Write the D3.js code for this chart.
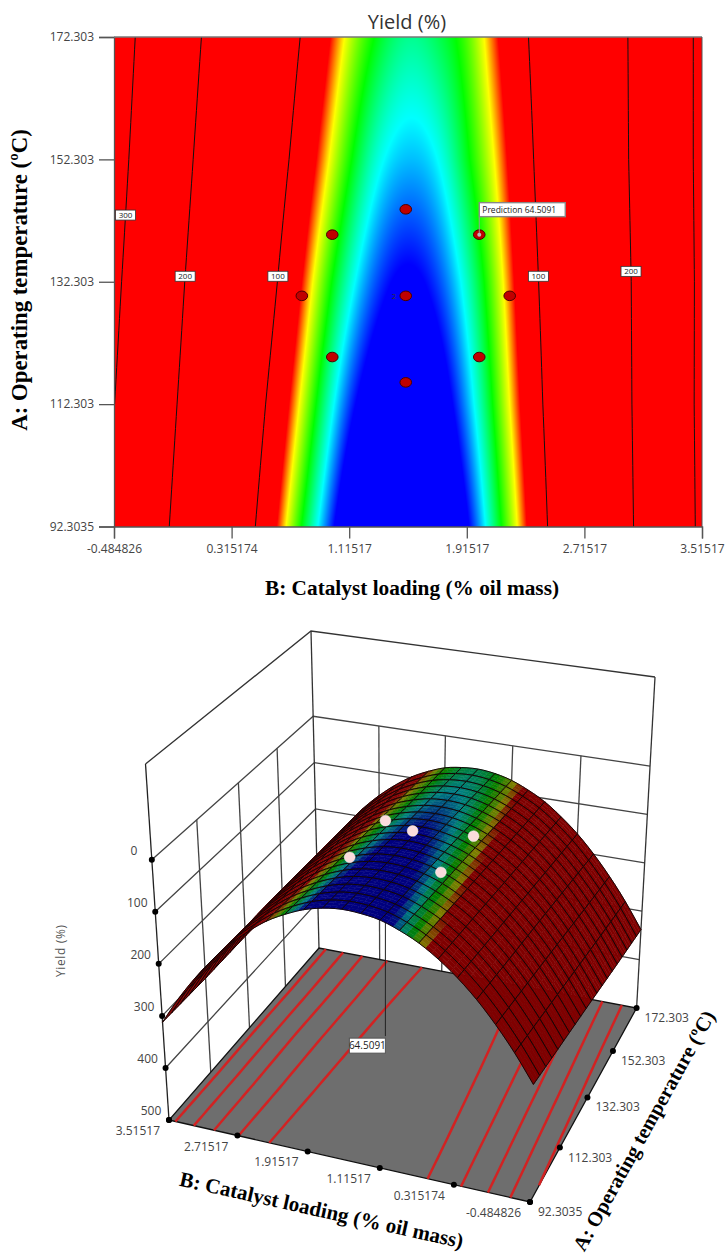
<!DOCTYPE html>
<html>
<head>
<meta charset="utf-8">
<script src="https://cdn.jsdelivr.net/npm/d3@7"></script>
<style>
  body { margin: 0; background: #fff; }
  svg { display: block; }
  text { font-family: "Open Sans", sans-serif; }
  .serif { font-family: "Liberation Serif", serif; font-weight: bold; fill: #000; }
</style>
</head>
<body>
<svg width="725" height="1259"></svg>
<script>
// values, yield label by catalyst loading for each temperature
const catalystGrid = [-0.484826, -0.284826, -0.084826, 0.115174, 0.315174, 0.515174, 0.715174,
  0.915174, 1.115174, 1.315174, 1.515174, 1.715174, 1.915174, 2.115174, 2.315174, 2.515174,
  2.715174, 2.915174, 3.115174, 3.315174, 3.515174];
const tempGrid = [92.3035, 112.303, 132.303, 152.303, 172.303];
const yield92 = [289, 239, 195, 156, 123, 95, 72, 55, 42, 36, 34, 38, 47, 62, 81, 107, 137, 173, 214, 260, 312];
const yield112 = [301, 251, 206, 167, 133, 104, 81, 63, 50, 43, 41, 44, 53, 67, 86, 111, 141, 176, 216, 262, 314];
const yield132 = [313, 263, 217, 177, 143, 114, 90, 71, 58, 50, 47, 50, 58, 71, 90, 114, 143, 177, 217, 263, 313];
const yield152 = [326, 275, 229, 188, 153, 123, 99, 80, 66, 57, 54, 56, 64, 76, 94, 118, 147, 181, 220, 265, 315];
const yield172 = [338, 286, 240, 199, 163, 133, 107, 88, 73, 64, 60, 62, 68, 81, 98, 121, 149, 182, 221, 265, 315];
const yieldRows = [yield92, yield112, yield132, yield152, yield172];

const colorStops = [48, 56, 65, 75, 82];
const heatColors = ["#0000ff", "#00ffff", "#00ff00", "#ffff00", "#ff0000"];
const surfColors = ["#00007f", "#007f7f", "#007f00", "#7f7f00", "#7f0000"];

const tempTicks = [92.3035, 112.303, 132.303, 152.303, 172.303];
const tempTickLabels = ["92.3035", "112.303", "132.303", "152.303", "172.303"];
const catTicks = [-0.484826, 0.315174, 1.115174, 1.915174, 2.715174, 3.515174];
const catTickLabels = ["-0.484826", "0.315174", "1.11517", "1.91517", "2.71517", "3.51517"];
const yieldTicks = [0, 100, 200, 300, 400, 500];

const contourLevels = [100, 200, 300];
const contourLabels = [[300, 143.2, -1], [200, 133.2, -1], [100, 133.2, -1], [100, 133.2, 1], [200, 134, 1]];
const floorLevels = [85, 135, 187, 238, 292];

const designA = [120, 120, 140, 140, 115.86, 144.14, 130, 130, 130];
const designB = [1, 2, 1, 2, 1.5, 1.5, 0.793, 2.207, 1.5];
const shownA = [120, 140, 140, 120, 130];
const shownB = [1, 1, 2, 2, 1.5];
const shownYield = [60, 66, 63, 60, 32];
const flagA = 140, flagB = 2, flagValue = "64.5091";

const svg = d3.select("svg");
const catStep = catalystGrid[1] - catalystGrid[0];
const catMid = 1.515174;

function catmull(row, t) {
  const i = Math.max(0, Math.min(row.length - 2, Math.floor(t)));
  const f = t - i;
  const p1 = row[i], p2 = row[i + 1];
  const p0 = i > 0 ? row[i - 1] : 2 * p1 - p2;
  const p3 = i < row.length - 2 ? row[i + 2] : 2 * p2 - p1;
  return 0.5 * (2 * p1 + (p2 - p0) * f + (2 * p0 - 5 * p1 + 4 * p2 - p3) * f * f + (3 * p1 - p0 - 3 * p2 + p3) * f * f * f);
}

// yield label at any spot, for drawing between the table's rows
const rowIndex = d3.scaleLinear().domain(tempGrid).range(d3.range(tempGrid.length));
function yieldAt(b, a) {
  const t = (b - catalystGrid[0]) / catStep;
  const s = Math.max(0, Math.min(tempGrid.length - 1.0001, rowIndex(a)));
  const j = Math.floor(s);
  return catmull(yieldRows[j], t) * (1 - (s - j)) + catmull(yieldRows[j + 1], t) * (s - j);
}

function crossing(level, a, side) {
  const end = side < 0 ? catalystGrid[0] : catalystGrid[20];
  const n = 200;
  let prev = catMid, vPrev = yieldAt(prev, a);
  for (let k = 1; k <= n; k++) {
    const b = catMid + (end - catMid) * k / n;
    const v = yieldAt(b, a);
    if (vPrev < level && v >= level) return prev + (b - prev) * (level - vPrev) / (v - vPrev);
    prev = b; vPrev = v;
  }
  return null;
}

// ---------- top: contour plot
const x = d3.scaleLinear().domain([-0.484826, 3.515174]).range([114, 702]);
const y = d3.scaleLinear().domain([92.3035, 172.303]).range([526.5, 37]);
const heat = d3.scaleLinear().domain(colorStops).range(heatColors).clamp(true);
const surf = d3.scaleLinear().domain(colorStops).range(surfColors).clamp(true);

const w = 588, h = 490;
const canvas = document.createElement("canvas");
canvas.width = w; canvas.height = h;
const ctx = canvas.getContext("2d");
for (let py = 0; py < h; py++) {
  const a = y.invert(37 + py + 0.5);
  for (let px = 0; px < w; px++) {
    ctx.fillStyle = heat(yieldAt(x.invert(114 + px + 0.5), a));
    ctx.fillRect(px, py, 1, 1);
  }
}
svg.append("image").attr("x", 114).attr("y", 37).attr("width", w).attr("height", h)
  .attr("href", canvas.toDataURL());

const contourLine = d3.line().x(d => x(d[0])).y(d => y(d[1]));
const tempSteps = d3.range(41).map(i => 92.3035 + (172.303 - 92.3035) * i / 40);
contourLevels.forEach(level => {
  [-1, 1].forEach(side => {
    const pts = tempSteps.map(a => [crossing(level, a, side), a]).filter(d => d[0] !== null);
    svg.append("path").attr("d", contourLine(pts)).attr("fill", "none").attr("stroke", "#111").attr("stroke-width", 1);
  });
});

const cLab = svg.append("g").selectAll("g").data(contourLabels).join("g")
  .attr("transform", d => `translate(${x(crossing(d[0], d[1], d[2]))},${y(d[1])})`);
cLab.append("rect").attr("x", -10).attr("y", -5).attr("width", 20).attr("height", 10)
  .attr("fill", "#fff").attr("stroke", "#333").attr("stroke-width", 0.8);
cLab.append("text").attr("text-anchor", "middle").attr("y", 3).attr("font-size", 8).attr("fill", "#222").text(d => d[0]);

svg.append("g").attr("transform", "translate(114,0)")
  .call(d3.axisLeft(y).tickValues(tempTicks).tickFormat((d, i) => tempTickLabels[i]).tickSize(15).tickPadding(5))
  .call(g => g.selectAll("text").attr("font-size", 12).attr("fill", "#444").attr("font-family", "Open Sans"))
  .call(g => g.selectAll("line,path").attr("stroke", "#555").attr("stroke-width", 1.3));
svg.append("g").attr("transform", "translate(0,526.5)")
  .call(d3.axisBottom(x).tickValues(catTicks).tickFormat((d, i) => catTickLabels[i]).tickSize(12).tickPadding(6))
  .call(g => g.selectAll("text").attr("font-size", 12).attr("fill", "#444").attr("font-family", "Open Sans"))
  .call(g => g.selectAll("line,path").attr("stroke", "#555").attr("stroke-width", 1.3));
svg.append("line").attr("x1", 114).attr("x2", 702).attr("y1", 37).attr("y2", 37).attr("stroke", "#777").attr("stroke-width", 1.5);
svg.append("line").attr("x1", 702).attr("x2", 702).attr("y1", 37).attr("y2", 526).attr("stroke", "#555");

svg.selectAll(".design").data(designA).join("ellipse").attr("class", "design")
  .attr("cx", (d, i) => x(designB[i])).attr("cy", d => y(d)).attr("rx", 5.8).attr("ry", 4.8)
  .attr("fill", "#c00000").attr("stroke", "#4a0000").attr("stroke-width", 1);
svg.append("text").attr("x", x(1.5) - 14).attr("y", y(130) + 3).attr("font-size", 8).attr("fill", "#333").text("2");

// prediction flag
const fx = x(flagB), fy = y(flagA);
svg.append("line").attr("x1", fx).attr("x2", fx).attr("y1", fy).attr("y2", fy - 18).attr("stroke", "#999");
svg.append("circle").attr("cx", fx).attr("cy", fy).attr("r", 2).attr("fill", "#bbb");
svg.append("rect").attr("x", fx).attr("y", fy - 32).attr("width", 86).attr("height", 14)
  .attr("fill", "#fff").attr("stroke", "#888").attr("stroke-width", 1.4);
svg.append("text").attr("x", fx + 3).attr("y", fy - 22).attr("font-size", 8.5).attr("fill", "#222").text("Prediction  " + flagValue);

svg.append("text").attr("x", 407).attr("y", 29).attr("text-anchor", "middle").attr("font-size", 20).attr("fill", "#333").text("Yield (%)");
svg.append("text").attr("class", "serif").attr("x", 412).attr("y", 595).attr("text-anchor", "middle").attr("font-size", 21.3)
  .text("B: Catalyst loading (% oil mass)");
svg.append("text").attr("class", "serif").attr("transform", "translate(27,280) rotate(-90)").attr("text-anchor", "middle").attr("font-size", 22.8)
  .text("A: Operating temperature (ºC)");

// ---------- bottom: 3D response surface
function quadMap(p0, p1, p2, p3) {
  const dx1 = p1[0] - p2[0], dx2 = p3[0] - p2[0], sx = p0[0] - p1[0] + p2[0] - p3[0];
  const dy1 = p1[1] - p2[1], dy2 = p3[1] - p2[1], sy = p0[1] - p1[1] + p2[1] - p3[1];
  const det = dx1 * dy2 - dx2 * dy1;
  const g = (sx * dy2 - dx2 * sy) / det, k = (dx1 * sy - sx * dy1) / det;
  const a = p1[0] - p0[0] + g * p1[0], b = p3[0] - p0[0] + k * p3[0];
  const d = p1[1] - p0[1] + g * p1[1], e = p3[1] - p0[1] + k * p3[1];
  return (u, v) => {
    const q = g * u + k * v + 1;
    return [(a * u + b * v + p0[0]) / q, (d * u + e * v + p0[1]) / q];
  };
}
const floorMap = quadMap([169, 1120], [530, 1202], [636.6, 1008], [319, 948]);
const topMap = quadMap([145.5, 764], [541, 821], [655, 677], [311, 631]);
const uScale = d3.scaleLinear().domain([3.515174, -0.484826]).range([0, 1]);
const vScale = d3.scaleLinear().domain([92.3035, 172.303]).range([0, 1]);
const zScale = d3.scaleLinear().domain([500, -184]).range([0, 1]);

function project(b, a, z) {
  const f = floorMap(uScale(b), vScale(a)), t = topMap(uScale(b), vScale(a)), k = zScale(z);
  return [f[0] + (t[0] - f[0]) * k, f[1] + (t[1] - f[1]) * k];
}
const line3 = d3.line();
const g3 = svg.append("g");
const bMin = -0.484826, bMax = 3.515174, aMin = 92.3035, aMax = 172.303;

function seg(points, stroke, width) {
  g3.append("path").attr("d", line3(points)).attr("fill", "none").attr("stroke", stroke).attr("stroke-width", width);
}
// walls
yieldTicks.slice(0, 5).forEach(z => {
  seg([project(bMax, aMin, z), project(bMax, aMax, z), project(bMin, aMax, z)], "#444", 1.3);
});
tempTicks.slice(1, 4).forEach(a => seg([project(bMax, a, 500), project(bMax, a, 0)], "#444", 1.3));
catTicks.slice(1, 5).forEach(b => seg([project(b, aMax, 500), project(b, aMax, 0)], "#444", 1.3));
seg([project(bMax, aMin, -184), project(bMax, aMax, -184), project(bMin, aMax, -184)], "#333", 1.3);
seg([project(bMax, aMax, 500), project(bMax, aMax, -184)], "#333", 1.3);
seg([project(bMin, aMax, 500), project(bMin, aMax, -184)], "#333", 1.3);

// floor
g3.append("path").attr("d", line3([project(bMax, aMin, 500), project(bMin, aMin, 500), project(bMin, aMax, 500), project(bMax, aMax, 500)]) + "Z")
  .attr("fill", "#6e6e6e").attr("stroke", "#111").attr("stroke-width", 1.3);
floorLevels.forEach(level => {
  [-1, 1].forEach(side => {
    const pts = tempSteps.map(a => [crossing(level, a, side), a]).filter(d => d[0] !== null)
      .map(d => project(d[0], d[1], 500));
    seg(pts, "#d22222", 2.5);
  });
});

// flag on the floor, leader runs up behind the surface
const flagFloor = project(flagB, flagA, 500);
seg([flagFloor, project(flagB, flagA, 55)], "#222", 1);
g3.append("rect").attr("x", flagFloor[0] - 36).attr("y", flagFloor[1] + 2).attr("width", 36).attr("height", 15)
  .attr("fill", "#fff").attr("stroke", "#555");
g3.append("text").attr("x", flagFloor[0] - 18).attr("y", flagFloor[1] + 13).attr("text-anchor", "middle")
  .attr("font-size", 10).attr("fill", "#222").text(flagValue);

// left axis of the box with its ticks, sits behind the surface corner
seg([project(bMax, aMin, -184), project(bMax, aMin, 500)], "#222", 1.3);

// surface, far cells first, each cell painted in small pieces for the colour ramp
const sub = 3;
const nCells = 20;
const aStep = (aMax - aMin) / nCells;
const gSurf = svg.append("g");
for (let j = nCells - 1; j >= 0; j--) {
  for (let i = nCells - 1; i >= 0; i--) {
    const b0 = catalystGrid[i], a0 = aMin + j * aStep;
    for (let sj = 0; sj < sub; sj++) {
      for (let si = 0; si < sub; si++) {
        const corners = [[si, sj], [si + 1, sj], [si + 1, sj + 1], [si, sj + 1]]
          .map(c => [b0 + c[0] * catStep / sub, a0 + c[1] * aStep / sub]);
        const pts = corners.map(c => project(c[0], c[1], yieldAt(c[0], c[1])));
        const col = surf(yieldAt(b0 + (si + 0.5) * catStep / sub, a0 + (sj + 0.5) * aStep / sub));
        gSurf.append("path").attr("d", line3(pts) + "Z").attr("fill", col).attr("stroke", col).attr("stroke-width", 0.5);
      }
    }
    const edge = [];
    for (let s = 0; s <= sub; s++) edge.push([b0 + s * catStep / sub, a0]);
    for (let s = 1; s <= sub; s++) edge.push([b0 + catStep, a0 + s * aStep / sub]);
    for (let s = 1; s <= sub; s++) edge.push([b0 + catStep - s * catStep / sub, a0 + aStep]);
    for (let s = 1; s <= sub; s++) edge.push([b0, a0 + aStep - s * aStep / sub]);
    gSurf.append("path").attr("d", line3(edge.map(c => project(c[0], c[1], yieldAt(c[0], c[1])))))
      .attr("fill", "none").attr("stroke", "#140606").attr("stroke-width", 1);
  }
}

// design points above the surface
svg.selectAll(".shown").data(shownA).join("circle").attr("class", "shown")
  .attr("cx", (d, i) => project(shownB[i], d, shownYield[i])[0])
  .attr("cy", (d, i) => project(shownB[i], d, shownYield[i])[1])
  .attr("r", 5.4).attr("fill", "#fbdcdc").attr("stroke", "#fff").attr("stroke-width", 0.5);

// axis ticks and labels
const tick = (p) => svg.append("circle").attr("cx", p[0]).attr("cy", p[1]).attr("r", 3).attr("fill", "#000");
yieldTicks.forEach(z => {
  const p = project(bMax, aMin, z);
  tick(p);
  svg.append("text").attr("x", p[0] - 18).attr("y", p[1] - 5).attr("text-anchor", "middle").attr("font-size", 12).attr("fill", "#444").text(z);
});
tempTicks.forEach((a, i) => {
  const p = project(bMin, a, 500);
  tick(p);
  svg.append("text").attr("x", p[0] + 8).attr("y", p[1] + 14).attr("font-size", 12).attr("fill", "#444").text(tempTickLabels[i]);
});
catTicks.forEach((b, i) => {
  const p = project(b, aMin, 500);
  tick(p);
  svg.append("text").attr("x", p[0] - 9).attr("y", p[1] + 15).attr("text-anchor", "end").attr("font-size", 12).attr("fill", "#444").text(catTickLabels[i]);
});

svg.append("text").attr("transform", "translate(65,951) rotate(-90)").attr("text-anchor", "middle").attr("font-size", 12).attr("fill", "#555")
  .attr("textLength", 52).attr("font-family", "DejaVu Sans").text("Yield (%)");
svg.append("text").attr("class", "serif").attr("transform", "translate(320,1217) rotate(12.5)").attr("text-anchor", "middle").attr("font-size", 21)
  .text("B: Catalyst loading (% oil mass)");
svg.append("text").attr("class", "serif").attr("transform", "translate(650,1134) rotate(-61)").attr("text-anchor", "middle").attr("font-size", 20.5)
  .text("A: Operating temperature (ºC)");
</script>
</body>
</html>
